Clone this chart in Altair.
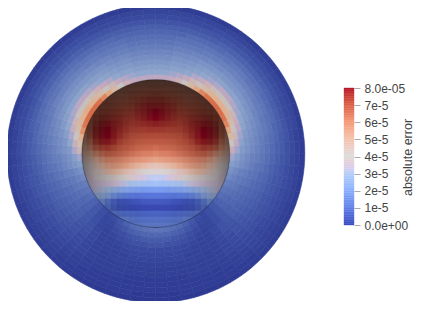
import altair as alt
import pandas as pd

# Annulus around the sphere: rows = 5-degree sectors clockwise from the top,
# columns = 5-unit radial rings outward from the sphere's rim (error in 1e-6).
ring_edges = [74 + 5 * i for i in range(16)]
sector_edges = [5 * i for i in range(73)]
disc_values = [
    [33,30,28,26,24,22,20,18,16,14,12,9,6,4,1],
    [33,30,28,26,24,22,20,18,16,14,12,9,6,4,1],
    [34,31,29,27,25,23,21,19,17,14,12,9,6,4,1],
    [36,32,29,27,25,23,21,19,17,15,12,9,6,4,1],
    [40,34,30,28,26,24,22,19,17,15,12,9,6,4,1],
    [46,37,32,29,27,25,22,20,18,15,12,9,7,4,1],
    [52,41,34,30,28,25,23,20,18,15,13,10,7,4,1],
    [58,45,36,31,28,26,23,21,18,16,13,10,7,4,1],
    [62,48,38,32,29,26,24,21,19,16,13,10,7,4,1],
    [64,50,39,33,29,26,24,21,19,16,13,10,7,4,1],
    [65,50,39,33,29,26,24,21,18,16,13,10,7,4,1],
    [64,50,39,32,29,26,23,21,18,16,13,10,7,4,1],
    [62,48,37,31,28,25,23,20,18,15,13,10,7,4,1],
    [58,45,35,30,27,25,22,20,18,15,12,9,6,4,1],
    [52,41,33,29,26,24,22,19,17,15,12,9,6,4,1],
    [46,37,31,27,25,23,21,19,17,14,12,9,6,4,1],
    [40,34,29,26,24,22,20,18,16,14,11,9,6,3,1],
    [35,31,27,25,23,21,19,17,15,13,11,8,6,3,1],
    [31,28,25,23,21,20,18,16,14,12,10,8,5,3,1],
    [28,26,24,22,20,18,17,15,13,11,9,7,5,3,1],
    [25,23,21,20,18,17,15,14,12,10,9,7,5,3,1],
    [23,21,19,18,17,15,14,13,11,10,8,6,4,3,1],
    [20,19,18,16,15,14,13,12,10,9,7,6,4,2,1],
    [18,17,16,15,14,13,12,11,9,8,7,5,4,2,1],
    [16,15,14,14,13,12,11,10,9,7,6,5,3,2,1],
    [13,13,13,12,12,11,10,9,8,7,5,4,3,2,1],
    [10,10,10,10,10,9,8,8,7,6,5,4,3,2,1],
    [7,7,7,7,8,8,7,6,6,5,4,3,2,1,1],
    [5,4,4,4,5,5,5,4,4,4,3,2,2,1,1],
    [7,5,4,3,3,3,3,3,3,3,2,2,1,1,0],
    [10,8,6,4,3,3,3,2,2,2,2,1,1,1,0],
    [13,10,7,6,4,3,3,3,2,2,2,1,1,1,0],
    [15,12,9,7,5,4,3,3,2,2,2,1,1,1,0],
    [16,13,10,8,6,5,4,3,2,2,1,1,1,1,0],
    [17,14,11,8,6,5,4,3,2,2,1,1,1,0,0],
    [18,14,11,9,6,5,4,3,2,2,1,1,1,0,0],
    [18,14,11,9,6,5,4,3,2,2,1,1,1,0,0],
    [17,14,11,8,6,5,4,3,2,2,1,1,1,0,0],
    [16,13,10,8,6,5,4,3,2,2,1,1,1,1,0],
    [15,12,9,7,5,4,3,3,2,2,2,1,1,1,0],
    [13,10,7,6,4,3,3,3,2,2,2,1,1,1,0],
    [10,8,6,4,3,3,3,2,2,2,2,1,1,1,0],
    [7,5,4,3,3,3,3,3,3,3,2,2,1,1,0],
    [5,4,4,4,5,5,5,4,4,4,3,2,2,1,1],
    [7,7,7,7,8,8,7,6,6,5,4,3,2,1,1],
    [10,10,10,10,10,9,8,8,7,6,5,4,3,2,1],
    [13,13,13,12,12,11,10,9,8,7,5,4,3,2,1],
    [16,15,14,14,13,12,11,10,9,7,6,5,3,2,1],
    [18,17,16,15,14,13,12,11,9,8,7,5,4,2,1],
    [20,19,18,16,15,14,13,12,10,9,7,6,4,2,1],
    [23,21,19,18,17,15,14,13,11,10,8,6,4,3,1],
    [25,23,21,20,18,17,15,14,12,10,9,7,5,3,1],
    [28,26,24,22,20,18,17,15,13,11,9,7,5,3,1],
    [31,28,25,23,21,20,18,16,14,12,10,8,5,3,1],
    [37,32,27,25,23,21,19,17,15,13,11,8,6,3,1],
    [43,36,30,26,24,22,20,18,16,14,11,9,6,3,1],
    [50,40,32,28,25,23,21,19,17,14,12,9,6,4,1],
    [56,44,35,30,27,24,22,19,17,15,12,9,6,4,1],
    [61,47,37,31,28,25,23,20,18,15,12,9,6,4,1],
    [64,50,39,32,29,26,23,21,18,16,13,10,7,4,1],
    [66,51,39,33,29,26,24,21,18,16,13,10,7,4,1],
    [65,50,39,33,29,26,24,21,19,16,13,10,7,4,1],
    [63,48,38,32,29,26,24,21,19,16,13,10,7,4,1],
    [58,45,36,31,28,26,23,21,18,16,13,10,7,4,1],
    [52,41,34,30,28,25,23,20,18,15,13,10,7,4,1],
    [46,37,32,29,27,25,22,20,18,15,12,9,7,4,1],
    [40,34,30,28,26,24,22,19,17,15,12,9,6,4,1],
    [36,32,29,27,25,23,21,19,17,15,12,9,6,4,1],
    [34,31,29,27,25,23,21,19,17,14,12,9,6,4,1],
    [33,30,28,26,24,22,20,18,16,14,12,9,6,4,1],
    [33,30,28,26,24,22,20,18,16,14,12,9,6,4,1],
    [33,30,28,26,24,22,20,18,16,14,12,9,6,4,1],
]

# Sphere surface sampled on a 25 x 25 grid (error in 1e-6), top row first.
sphere_x_edges = [81 + 6 * i for i in range(26)]
sphere_y_edges = [79 + 6 * i for i in range(26)]
sphere_values = [
    [48,48,50,50,52,54,54,55,56,56,57,57,58,57,57,56,56,55,54,54,52,50,50,48,48],
    [48,50,52,54,55,56,58,58,59,60,61,62,62,62,61,60,59,58,58,56,55,54,52,50,48],
    [50,52,54,56,58,60,60,62,64,65,66,67,68,67,66,65,64,62,60,60,58,56,54,52,50],
    [52,54,58,60,62,63,64,65,67,69,71,73,73,73,71,69,67,65,64,63,62,60,58,54,52],
    [54,56,60,64,66,67,67,68,70,73,75,77,77,77,75,73,70,68,67,67,66,64,60,56,54],
    [56,60,65,68,70,70,71,71,72,75,77,79,80,79,77,75,72,71,71,70,70,68,65,60,56],
    [58,63,69,73,74,74,74,73,73,75,77,79,80,79,77,75,73,73,74,74,74,73,69,63,58],
    [58,65,73,77,78,77,76,74,73,74,75,76,77,76,75,74,73,74,76,77,78,77,73,65,58],
    [58,66,76,79,80,78,76,74,72,72,72,73,73,73,72,72,72,74,76,78,80,79,76,66,58],
    [56,66,76,79,80,78,75,72,70,70,70,70,70,70,70,70,70,72,75,78,80,79,76,66,56],
    [54,62,73,77,78,76,72,70,69,68,68,68,68,68,68,68,69,70,72,76,78,77,73,62,54],
    [52,58,67,71,73,71,69,68,67,66,66,66,65,66,66,66,67,68,69,71,73,71,67,58,52],
    [48,52,58,64,67,67,66,65,64,63,62,62,61,62,62,63,64,65,66,67,67,64,58,52,48],
    [44,46,50,56,60,61,61,60,59,58,57,56,55,56,57,58,59,60,61,61,60,56,50,46,44],
    [40,42,46,50,54,56,56,55,53,51,49,47,46,47,49,51,53,55,56,56,54,50,46,42,40],
    [36,38,42,45,48,50,49,47,45,43,41,39,38,39,41,43,45,47,49,50,48,45,42,38,36],
    [34,35,37,39,41,42,41,39,37,35,33,31,31,31,33,35,37,39,41,42,41,39,37,35,34],
    [34,34,34,34,34,34,33,31,29,28,27,26,26,26,27,28,29,31,33,34,34,34,34,34,34],
    [32,32,32,31,29,26,23,21,19,18,17,17,17,17,17,18,19,21,23,26,29,31,32,32,32],
    [28,28,28,26,22,17,13,11,10,9,9,9,9,9,9,9,10,11,13,17,22,26,28,28,28],
    [24,24,22,18,12,7,4,3,3,3,4,4,4,4,4,3,3,3,4,7,12,18,22,24,24],
    [22,20,18,14,10,6,3,2,1,1,1,1,1,1,1,1,1,2,3,6,10,14,18,20,22],
    [22,22,20,18,15,12,10,9,8,7,7,7,7,7,7,7,8,9,10,12,15,18,20,22,22],
    [22,22,22,20,18,16,15,14,12,11,11,11,11,11,11,11,12,14,15,16,18,20,22,22,22],
    [22,22,22,22,20,18,16,16,14,14,14,14,14,14,14,14,14,16,16,18,20,22,22,22,22],
]

bar_levels = list(range(0, 80))
tick_values = [0, 10, 20, 30, 40, 50, 60, 70, 80]
tick_labels = ["0.0e+00", "1e-5", "2e-5", "3e-5", "4e-5", "5e-5", "6e-5", "7e-5", "8.0e-05"]

cool_warm = ["#3b4cc0", "#6282ea", "#8db0fe", "#b8d0f9", "#dddcdc",
             "#f5c4ac", "#f4987a", "#db5f47", "#b40426"]
disc_colors = ["#2e3a92", "#4357a7", "#667dbc", "#90a6cc", "#c6c3c0",
               "#e0b090", "#dd7a55", "#d06040", "#b40426"]

annulus = pd.DataFrame([
    {"a0": sector_edges[s], "a1": sector_edges[s + 1],
     "r0": ring_edges[r], "r1": ring_edges[r + 1], "v": v}
    for s, row in enumerate(disc_values) for r, v in enumerate(row)
])
sphere = pd.DataFrame([
    {"x0": sphere_x_edges[i], "x1": sphere_x_edges[i + 1],
     "y0": sphere_y_edges[j], "y1": sphere_y_edges[j + 1], "v": v}
    for j, row in enumerate(sphere_values) for i, v in enumerate(row)
])
bar = pd.DataFrame({"lo": bar_levels, "hi": [b + 1 for b in bar_levels]})

WIDTH, HEIGHT = 407, 293
CX, CY = 147.8, 145.5
error_scale = alt.Scale(domain=tick_values, range=cool_warm)
disc_scale = alt.Scale(domain=tick_values, range=disc_colors)
px_x = alt.Scale(domain=[8, 8 + WIDTH], range=[0, WIDTH])
px_y = alt.Scale(domain=[8, 8 + HEIGHT], range=[0, HEIGHT])
radius_scale = alt.Scale(type="linear", domain=[0, 148.5], range=[0, 148.5])
theta_scale = alt.Scale(domain=[0, 360], range=[0, 6.28318530718])

sphere_layer = alt.Chart(sphere).mark_rect(strokeWidth=0.6).encode(
    x=alt.X("x0:Q", scale=px_x, axis=None),
    x2="x1:Q",
    y=alt.Y("y0:Q", scale=px_y, axis=None),
    y2="y1:Q",
    color=alt.Color("v:Q", scale=error_scale, legend=None),
    stroke=alt.Stroke("v:Q", scale=error_scale, legend=None),
)

annulus_layer = alt.Chart(annulus).mark_arc(strokeWidth=0.6).encode(
    x=alt.value(CX),
    y=alt.value(CY),
    theta=alt.Theta("a0:Q", scale=theta_scale, stack=None),
    theta2="a1:Q",
    radius=alt.Radius("r0:Q", scale=radius_scale),
    radius2="r1:Q",
    color=alt.Color("v:Q", scale=disc_scale, legend=None),
    stroke=alt.Stroke("v:Q", scale=disc_scale, legend=None),
)

shade = alt.RadialGradient(
    gradient="radial", x1=0.5, y1=0.68, x2=0.5, y2=0.68, r1=0, r2=0.68,
    stops=[
        alt.GradientStop(offset=0, color="rgba(0,0,0,0.0)"),
        alt.GradientStop(offset=0.3, color="rgba(0,0,0,0.1)"),
        alt.GradientStop(offset=0.6, color="rgba(0,0,0,0.33)"),
        alt.GradientStop(offset=0.8, color="rgba(0,0,0,0.58)"),
        alt.GradientStop(offset=1, color="rgba(0,0,0,0.74)"),
    ],
)
shade_layer = alt.Chart(pd.DataFrame({"k": [0]})).mark_circle(
    fill=shade, opacity=1, size=148 * 148, stroke="rgba(0,0,0,0.3)", strokeWidth=0.8,
).encode(x=alt.value(CX), y=alt.value(CY))

label_expr = "{" + ",".join(f"'{t}':'{l}'" for t, l in zip(tick_values, tick_labels)) + "}[datum.value]"
bar_scale_y = alt.Scale(domain=[0, 80], range=[217, 80])
bar_layer = alt.Chart(bar).mark_rect(strokeWidth=0.4).encode(
    x=alt.value(336),
    x2=alt.value(346),
    y=alt.Y("lo:Q", scale=bar_scale_y, axis=alt.Axis(
        orient="right", offset=-61, values=tick_values, labelExpr=label_expr,
        domain=False, grid=False, tickColor="#aaaaaa", tickSize=6, labelPadding=4,
        labelColor="#444444", labelFont="Liberation Sans", labelFontSize=12,
        title="absolute error", titleAngle=270, titleFont="Liberation Sans",
        titleFontSize=12.5, titleFontWeight="normal", titleColor="#444444",
        titleX=60, titleY=149,
    )),
    y2="hi:Q",
    color=alt.Color("lo:Q", scale=error_scale, legend=None),
    stroke=alt.Stroke("lo:Q", scale=error_scale, legend=None),
)

chart = alt.layer(sphere_layer, annulus_layer, shade_layer, bar_layer).resolve_scale(
    color="independent", stroke="independent", y="independent", x="independent",
).properties(
    width=WIDTH, height=HEIGHT, padding=0,
    autosize=alt.AutoSizeParams(type="none"),
    background="white",
    usermeta={"embedOptions": {"defaultStyle": "svg{overflow:visible}"}},
).configure_view(stroke=None)

chart.save("out.html", embed_options={"renderer": "svg", "actions": False})
